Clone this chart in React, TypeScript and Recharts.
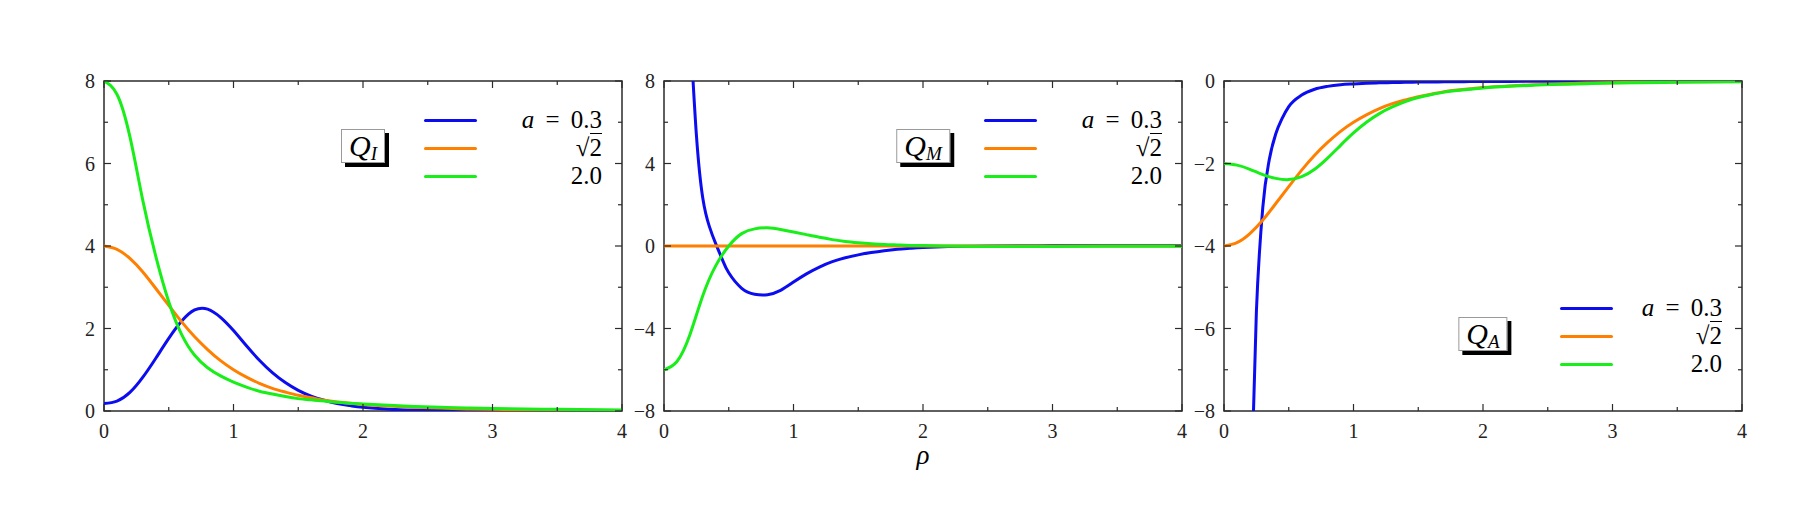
import { Legend, Line, LineChart, ReferenceArea, XAxis, YAxis } from 'recharts';

// sample grids along rho
const RHO = [0, 0.1, 0.2, 0.3, 0.4, 0.5, 0.6, 0.7, 0.8, 0.9, 1.0, 1.1, 1.2, 1.3, 1.4, 1.5, 1.6, 1.7, 1.8, 1.9, 2.0, 2.2, 2.4, 2.6, 2.8, 3.0, 3.5, 4.0];
const RHO_STEEP = [0.2, 0.25, 0.3, 0.35, 0.4, 0.45, 0.5, 0.6, 0.7, 0.8, 0.9, 1.0, 1.1, 1.2, 1.3, 1.4, 1.5, 1.6, 1.7, 1.8, 1.9, 2.0, 2.2, 2.5, 3.0, 3.5, 4.0];
const RHO_FLAT = [0, 4];

// Q_I
const QI_BLUE = [0.18, 0.24, 0.45, 0.82, 1.28, 1.76, 2.18, 2.45, 2.47, 2.27, 1.95, 1.58, 1.23, 0.93, 0.69, 0.5, 0.36, 0.26, 0.18, 0.13, 0.09, 0.045, 0.022, 0.011, 0.006, 0.003, 0.001, 0];
const QI_ORANGE = [4.0, 3.92, 3.7, 3.37, 2.97, 2.56, 2.16, 1.8, 1.49, 1.22, 1.0, 0.82, 0.67, 0.55, 0.46, 0.38, 0.32, 0.26, 0.22, 0.19, 0.16, 0.12, 0.09, 0.07, 0.05, 0.04, 0.02, 0.014];
const QI_GREEN = [8.0, 7.68, 6.65, 5.1, 3.75, 2.65, 1.85, 1.35, 1.05, 0.85, 0.7, 0.58, 0.48, 0.41, 0.35, 0.3, 0.27, 0.24, 0.21, 0.19, 0.17, 0.14, 0.11, 0.09, 0.075, 0.06, 0.04, 0.025];

// Q_M
const QM_BLUE = [10.8, 5.4, 2.3, 0.95, 0.1, -0.65, -1.3, -2.05, -2.34, -2.36, -2.15, -1.75, -1.35, -1.02, -0.76, -0.57, -0.43, -0.32, -0.23, -0.16, -0.11, -0.07, -0.03, 0.0, 0.02, 0.03, 0.03];
const QM_ORANGE = [0, 0];
const QM_GREEN = [-6.0, -5.6, -4.3, -2.4, -0.95, 0.0, 0.6, 0.83, 0.88, 0.8, 0.68, 0.55, 0.42, 0.31, 0.22, 0.16, 0.11, 0.07, 0.05, 0.03, 0.02, 0.0, -0.02, -0.02, -0.02, -0.02, -0.015, -0.01];

// Q_A
const QA_BLUE = [-11, -5.6, -3.05, -1.9, -1.28, -0.9, -0.62, -0.34, -0.2, -0.13, -0.09, -0.07, -0.055, -0.045, -0.038, -0.032, -0.027, -0.023, -0.02, -0.017, -0.015, -0.013, -0.01, -0.007, -0.004, -0.002, -0.001];
const QA_ORANGE = [-4.0, -3.92, -3.7, -3.37, -2.97, -2.56, -2.16, -1.8, -1.49, -1.22, -1.0, -0.82, -0.67, -0.55, -0.46, -0.38, -0.32, -0.26, -0.22, -0.19, -0.16, -0.12, -0.09, -0.07, -0.05, -0.04, -0.02, -0.014];
const QA_GREEN = [-2.0, -2.04, -2.14, -2.27, -2.36, -2.39, -2.32, -2.14, -1.87, -1.56, -1.26, -1.0, -0.79, -0.63, -0.5, -0.4, -0.33, -0.27, -0.23, -0.2, -0.17, -0.13, -0.1, -0.08, -0.065, -0.05, -0.03, -0.02];

const X_TICKS = [0, 0.5, 1, 1.5, 2, 2.5, 3, 3.5, 4];
const QI_TICKS = [0, 1, 2, 3, 4, 5, 6, 7, 8];
const QM_TICKS = [-8, -6, -4, -2, 0, 2, 4, 6, 8];
const QA_TICKS = [-8, -7, -6, -5, -4, -3, -2, -1, 0];

const COLORS = ['#0c0cf0', '#ff7f00', '#18ee18'];

const PLOT_W = 518;
const PLOT_H = 330;
const AXIS_W = 60;
const TOP = 21;
const CHART_W = AXIS_W + PLOT_W + 22;
const CHART_H = TOP + PLOT_H + 80;
const ROW_GAP = 28;
const FRAME = '#2b2b2b';
const SERIF = "'Liberation Serif', 'DejaVu Serif', Tinos, Times, serif";

const fmt = (v: number) => (v < 0 ? `\u2212${Math.abs(v)}` : String(v));
const zip = (rho: number[], vals: number[]) => rho.map((r, i) => ({ rho: r, v: vals[i] }));

function XTick({ x, y, payload }: any) {
  const v = payload.value as number;
  const major = Number.isInteger(v);
  const len = major ? 7 : 4;
  return (
    <g>
      <line x1={x} x2={x} y1={y} y2={y - len} stroke={FRAME} strokeWidth={1.2} />
      <line x1={x} x2={x} y1={y - PLOT_H} y2={y - PLOT_H + len} stroke={FRAME} strokeWidth={1.2} />
      {major && (
        <text x={x} y={y + 27} textAnchor="middle" fontSize={20} style={{ fontFamily: SERIF }} fill="#222">
          {fmt(v)}
        </text>
      )}
    </g>
  );
}

function makeYTick(step: number) {
  return function YTick({ x, y, payload }: any) {
    const v = payload.value as number;
    const major = v % step === 0;
    const len = major ? 7 : 4;
    return (
      <g>
        <line x1={x} x2={x + len} y1={y} y2={y} stroke={FRAME} strokeWidth={1.2} />
        <line x1={x + PLOT_W} x2={x + PLOT_W - len} y1={y} y2={y} stroke={FRAME} strokeWidth={1.2} />
        {major && (
          <text x={x - 9} y={y} textAnchor="end" dominantBaseline="central" fontSize={20} style={{ fontFamily: SERIF }} fill="#222">
            {fmt(v)}
          </text>
        )}
      </g>
    );
  };
}

function LegendLabel({ index }: { index: number }) {
  if (index === 0) {
    return (
      <span style={{ wordSpacing: 5 }}>
        <i>a</i> = 0.3
      </span>
    );
  }
  if (index === 1) {
    return (
      <span>
        √<span style={{ borderTop: '1.5px solid #000' }}>2</span>
      </span>
    );
  }
  return <span>2.0</span>;
}

interface LegendSpec {
  sub: string;
  rowTop: number;
  lineX: number;
}

function PanelLegend({ sub, rowTop, lineX }: LegendSpec) {
  return (
    <div style={{ position: 'relative', width: PLOT_W, height: PLOT_H, fontFamily: SERIF, color: '#000', pointerEvents: 'none' }}>
      <div
        style={{
          position: 'absolute',
          left: 259,
          top: rowTop + 26 - 17,
          height: 34,
          transform: 'translateX(-50%)',
          border: '1px solid #9a9a9a',
          background: '#fff',
          boxShadow: '4px 4px 0 #000',
          padding: '0 7px',
          display: 'flex',
          alignItems: 'center',
          whiteSpace: 'nowrap',
          boxSizing: 'border-box',
        }}
      >
        <span style={{ fontStyle: 'italic', fontSize: 30, lineHeight: '30px' }}>Q</span>
        <span style={{ fontStyle: 'italic', fontSize: 19, lineHeight: '19px', position: 'relative', top: 7 }}>{sub}</span>
      </div>
      {COLORS.map((c, i) => (
        <div key={c}>
          <div
            style={{
              position: 'absolute',
              left: lineX,
              top: rowTop + i * ROW_GAP - 1.5,
              width: 53,
              height: 3,
              background: c,
              borderRadius: 1.5,
            }}
          />
          <div
            style={{
              position: 'absolute',
              right: 20,
              top: rowTop + i * ROW_GAP - 12,
              height: 24,
              lineHeight: '24px',
              fontSize: 25,
              whiteSpace: 'nowrap',
            }}
          >
            <LegendLabel index={i} />
          </div>
        </div>
      ))}
    </div>
  );
}

interface SeriesSpec {
  name: string;
  rho: number[];
  values: number[];
  curve: 'natural' | 'monotone';
}

interface PanelProps {
  left: number;
  domain: [number, number];
  ticks: number[];
  major: number;
  series: SeriesSpec[];
  legend: LegendSpec;
  xLabel?: string;
}

function Panel({ left, domain, ticks, major, series, legend, xLabel }: PanelProps) {
  return (
    <div style={{ position: 'absolute', left: left - AXIS_W, top: 60 }}>
      <LineChart width={CHART_W} height={CHART_H} margin={{ top: TOP, right: 22, bottom: 0, left: 0 }}>
        <XAxis
          type="number"
          dataKey="rho"
          domain={[0, 4]}
          ticks={X_TICKS}
          interval={0}
          tick={XTick}
          tickLine={false}
          axisLine={false}
          tickSize={0}
          tickMargin={0}
          height={80}
          allowDataOverflow
          label={
            xLabel
              ? { value: xLabel, position: 'insideTop', offset: 34, fontSize: 27, fontStyle: 'italic', style: { fontFamily: SERIF }, fill: '#000' }
              : undefined
          }
        />
        <YAxis
          type="number"
          domain={domain}
          ticks={ticks}
          interval={0}
          tick={makeYTick(major)}
          tickLine={false}
          axisLine={false}
          tickSize={0}
          tickMargin={0}
          width={AXIS_W}
          allowDataOverflow
        />
        <ReferenceArea x1={0} x2={4} y1={domain[0]} y2={domain[1]} fill="none" stroke={FRAME} strokeWidth={1.5} />
        {series.map((s, i) => (
          <Line
            key={s.name}
            name={s.name}
            data={zip(s.rho, s.values)}
            dataKey="v"
            type={s.curve}
            stroke={COLORS[i]}
            strokeWidth={3}
            dot={false}
            activeDot={false}
            isAnimationActive={false}
          />
        ))}
        <Legend
          layout="vertical"
          verticalAlign="middle"
          align="center"
          wrapperStyle={{ left: AXIS_W, top: TOP, width: PLOT_W, height: PLOT_H }}
          content={() => <PanelLegend {...legend} />}
        />
      </LineChart>
    </div>
  );
}

export default function App() {
  return (
    <div style={{ position: 'absolute', left: 0, top: 0, width: 1793, height: 517, background: '#fff', overflow: 'hidden' }}>
      <Panel
        left={104}
        domain={[0, 8]}
        ticks={QI_TICKS}
        major={2}
        series={[
          { name: 'a = 0.3', rho: RHO, values: QI_BLUE, curve: 'natural' },
          { name: '√2', rho: RHO, values: QI_ORANGE, curve: 'natural' },
          { name: '2.0', rho: RHO, values: QI_GREEN, curve: 'natural' },
        ]}
        legend={{ sub: 'I', rowTop: 39, lineX: 320 }}
      />
      <Panel
        left={664}
        domain={[-8, 8]}
        ticks={QM_TICKS}
        major={4}
        series={[
          { name: 'a = 0.3', rho: RHO_STEEP, values: QM_BLUE, curve: 'natural' },
          { name: '√2', rho: RHO_FLAT, values: QM_ORANGE, curve: 'monotone' },
          { name: '2.0', rho: RHO, values: QM_GREEN, curve: 'natural' },
        ]}
        legend={{ sub: 'M', rowTop: 39, lineX: 320 }}
        xLabel="ρ"
      />
      <Panel
        left={1224}
        domain={[-8, 0]}
        ticks={QA_TICKS}
        major={2}
        series={[
          { name: 'a = 0.3', rho: RHO_STEEP, values: QA_BLUE, curve: 'monotone' },
          { name: '√2', rho: RHO, values: QA_ORANGE, curve: 'natural' },
          { name: '2.0', rho: RHO, values: QA_GREEN, curve: 'natural' },
        ]}
        legend={{ sub: 'A', rowTop: 227, lineX: 336 }}
      />
    </div>
  );
}
